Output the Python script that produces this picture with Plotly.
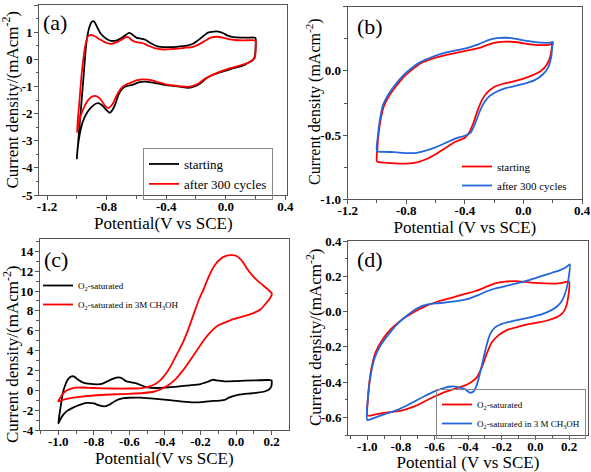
import plotly.graph_objects as go

# ---------------- data ----------------
# (a) CV loops
a_start_x = [-1.0, -0.985, -0.96, -0.935, -0.915, -0.9, -0.885, -0.865, -0.84, -0.8, -0.77, -0.73, -0.7, -0.67, -0.65, -0.63, -0.6, -0.57, -0.54, -0.5, -0.46, -0.4, -0.33, -0.26, -0.22, -0.19, -0.15, -0.12, -0.08, -0.05, -0.02, 0.01, 0.05, 0.1, 0.15, 0.19, 0.2,
             0.2, 0.195, 0.18, 0.16, 0.13, 0.1, 0.05, 0.0, -0.05, -0.09, -0.13, -0.17, -0.21, -0.25, -0.3, -0.35, -0.4, -0.45, -0.5, -0.54, -0.58, -0.62, -0.66, -0.68, -0.7, -0.72, -0.745, -0.765, -0.78, -0.8, -0.825, -0.85, -0.87, -0.9, -0.93, -0.96, -0.98, -0.995, -1.0]
a_start_y = [-3.65, -2.65, -1.0, 0.65, 1.2, 1.38, 1.4, 1.2, 0.95, 0.75, 0.68, 0.7, 0.78, 0.9, 0.97, 0.92, 0.8, 0.76, 0.72, 0.58, 0.48, 0.45, 0.46, 0.5, 0.57, 0.68, 0.86, 0.98, 1.02, 1.02, 0.97, 0.88, 0.82, 0.8, 0.8, 0.8, 0.78,
             0.4, 0.1, -0.03, -0.1, -0.2, -0.26, -0.33, -0.42, -0.5, -0.58, -0.7, -0.88, -1.0, -1.05, -1.02, -0.98, -0.95, -0.9, -0.85, -0.82, -0.84, -0.93, -0.98, -1.02, -1.12, -1.3, -1.7, -1.9, -1.97, -1.88, -1.72, -1.62, -1.63, -1.75, -1.95, -2.3, -2.75, -3.3, -3.65]
a_after_x = [-1.0, -0.985, -0.965, -0.945, -0.925, -0.905, -0.88, -0.85, -0.8, -0.77, -0.73, -0.7, -0.67, -0.65, -0.63, -0.6, -0.56, -0.52, -0.47, -0.42, -0.35, -0.28, -0.22, -0.18, -0.14, -0.1, -0.06, -0.02, 0.02, 0.06, 0.12, 0.19, 0.2,
             0.2, 0.195, 0.17, 0.14, 0.1, 0.05, 0.0, -0.05, -0.1, -0.14, -0.18, -0.22, -0.26, -0.3, -0.35, -0.4, -0.45, -0.5, -0.55, -0.6, -0.64, -0.67, -0.7, -0.73, -0.76, -0.79, -0.81, -0.84, -0.87, -0.89, -0.92, -0.95, -0.975, -0.99, -1.0]
a_after_y = [-2.7, -1.7, -0.4, 0.45, 0.85, 0.9, 0.85, 0.75, 0.6, 0.57, 0.63, 0.72, 0.82, 0.8, 0.7, 0.63, 0.6, 0.5, 0.4, 0.36, 0.38, 0.42, 0.46, 0.55, 0.68, 0.8, 0.83, 0.8, 0.74, 0.71, 0.7, 0.7, 0.68,
             0.35, 0.05, -0.08, -0.15, -0.22, -0.3, -0.38, -0.48, -0.6, -0.72, -0.88, -0.98, -1.02, -1.0, -0.96, -0.93, -0.85, -0.77, -0.74, -0.78, -0.87, -0.93, -1.05, -1.3, -1.65, -1.8, -1.72, -1.48, -1.36, -1.36, -1.48, -1.75, -2.1, -2.45, -2.7]

# (b) CV loops
b_start_x = [-1.0, -0.95, -0.88, -0.8, -0.72, -0.65, -0.58, -0.52, -0.46, -0.4, -0.37, -0.34, -0.31, -0.28, -0.24, -0.2, -0.14, -0.08, 0.0, 0.06, 0.12, 0.16, 0.185, 0.195, 0.2,
             0.18, 0.12, 0.06, 0.0, -0.06, -0.12, -0.18, -0.24, -0.3, -0.38, -0.46, -0.54, -0.62, -0.7, -0.76, -0.82, -0.87, -0.92, -0.955, -0.975, -0.99, -0.997, -1.0]
b_start_y = [-0.705, -0.715, -0.72, -0.722, -0.71, -0.68, -0.635, -0.59, -0.55, -0.52, -0.48, -0.4, -0.3, -0.22, -0.16, -0.125, -0.1, -0.085, -0.06, -0.035, 0.0, 0.05, 0.12, 0.19, 0.215,
             0.205, 0.2, 0.205, 0.215, 0.225, 0.228, 0.222, 0.205, 0.18, 0.16, 0.14, 0.12, 0.095, 0.06, 0.01, -0.05, -0.12, -0.2, -0.28, -0.38, -0.5, -0.6, -0.705]
b_after_x = [-1.0, -0.95, -0.88, -0.8, -0.74, -0.68, -0.6, -0.52, -0.46, -0.4, -0.36, -0.33, -0.3, -0.27, -0.23, -0.18, -0.12, -0.05, 0.02, 0.08, 0.13, 0.17, 0.19, 0.197, 0.2,
             0.18, 0.12, 0.06, 0.0, -0.06, -0.12, -0.18, -0.24, -0.3, -0.38, -0.46, -0.54, -0.62, -0.7, -0.76, -0.82, -0.87, -0.92, -0.96, -0.98, -0.993, -1.0]
b_after_y = [-0.625, -0.63, -0.633, -0.64, -0.64, -0.625, -0.595, -0.555, -0.525, -0.505, -0.48, -0.41, -0.32, -0.25, -0.195, -0.16, -0.135, -0.115, -0.095, -0.07, -0.03, 0.03, 0.11, 0.19, 0.225,
             0.22, 0.22, 0.228, 0.238, 0.252, 0.258, 0.255, 0.24, 0.21, 0.18, 0.16, 0.14, 0.11, 0.07, 0.025, -0.035, -0.1, -0.18, -0.27, -0.38, -0.5, -0.625]

# (c) CV loops
c_o2_x = [-1.0, -0.99, -0.975, -0.96, -0.945, -0.925, -0.91, -0.89, -0.86, -0.82, -0.78, -0.75, -0.72, -0.69, -0.66, -0.64, -0.62, -0.59, -0.56, -0.53, -0.5, -0.45, -0.4, -0.33, -0.26, -0.2, -0.16, -0.13, -0.1, -0.06, 0.0, 0.1, 0.19, 0.2,
          0.198, 0.185, 0.16, 0.12, 0.08, 0.04, 0.0, -0.04, -0.06, -0.09, -0.13, -0.18, -0.24, -0.3, -0.36, -0.42, -0.48, -0.54, -0.6, -0.64, -0.68, -0.71, -0.74, -0.77, -0.8, -0.84, -0.88, -0.92, -0.95, -0.975, -0.99, -1.0]
c_o2_y = [-3.3, -2.0, -0.3, 0.6, 1.15, 1.42, 1.4, 1.1, 0.8, 0.66, 0.62, 0.7, 0.95, 1.2, 1.32, 1.2, 0.95, 0.82, 0.72, 0.5, 0.32, 0.25, 0.3, 0.4, 0.52, 0.65, 0.88, 1.08, 1.0, 0.92, 0.95, 1.02, 1.05, 1.0,
          0.4, 0.1, -0.1, -0.22, -0.3, -0.36, -0.48, -0.72, -0.92, -1.02, -1.05, -1.15, -1.2, -1.12, -1.0, -0.9, -0.8, -0.72, -0.73, -0.8, -1.05, -1.4, -1.6, -1.5, -1.3, -1.25, -1.45, -1.75, -2.05, -2.5, -2.95, -3.3]
c_meoh_x = [-1.0, -0.985, -0.965, -0.94, -0.9, -0.86, -0.8, -0.7, -0.6, -0.53, -0.49, -0.45, -0.42, -0.39, -0.36, -0.33, -0.3, -0.27, -0.24, -0.21, -0.18, -0.15, -0.12, -0.09, -0.06, -0.03, 0.0, 0.03, 0.06, 0.09, 0.12, 0.15, 0.18, 0.2,
            0.2, 0.19, 0.17, 0.14, 0.1, 0.06, 0.02, -0.02, -0.06, -0.1, -0.14, -0.18, -0.22, -0.26, -0.3, -0.34, -0.38, -0.42, -0.46, -0.52, -0.6, -0.7, -0.8, -0.88, -0.94, -0.98, -1.0]
c_meoh_y = [-1.1, -0.6, -0.15, 0.12, 0.28, 0.3, 0.25, 0.2, 0.2, 0.25, 0.38, 0.7, 1.15, 1.8, 2.7, 3.75, 4.8, 6.1, 7.6, 9.1, 10.3, 11.6, 12.6, 13.2, 13.5, 13.6, 13.55, 13.1, 12.3, 11.6, 11.05, 10.6, 10.15, 9.8,
            9.6, 9.25, 8.8, 8.2, 7.8, 7.55, 7.35, 7.15, 6.85, 6.55, 5.95, 5.1, 4.05, 3.0, 2.0, 1.15, 0.55, 0.15, -0.1, -0.25, -0.33, -0.4, -0.5, -0.65, -0.8, -0.98, -1.1]

# (d) CV loops
d_o2_x = [-1.0, -0.95, -0.9, -0.84, -0.78, -0.72, -0.66, -0.6, -0.54, -0.48, -0.42, -0.38, -0.35, -0.32, -0.29, -0.26, -0.22, -0.17, -0.1, -0.04, 0.02, 0.08, 0.13, 0.16, 0.18, 0.193, 0.2,
          0.17, 0.12, 0.06, 0.0, -0.06, -0.12, -0.18, -0.24, -0.3, -0.36, -0.42, -0.5, -0.58, -0.66, -0.74, -0.8, -0.86, -0.91, -0.95, -0.975, -0.99, -0.998, -1.0]
d_o2_y = [-0.59, -0.583, -0.575, -0.568, -0.557, -0.538, -0.51, -0.482, -0.457, -0.438, -0.42, -0.4, -0.375, -0.32, -0.24, -0.175, -0.135, -0.105, -0.085, -0.072, -0.062, -0.048, -0.03, -0.01, 0.02, 0.07, 0.17,
          0.165, 0.158, 0.16, 0.163, 0.168, 0.172, 0.17, 0.16, 0.137, 0.115, 0.1, 0.078, 0.057, 0.028, -0.012, -0.05, -0.1, -0.16, -0.23, -0.32, -0.42, -0.52, -0.59]
d_meoh_x = [-1.0, -0.95, -0.9, -0.84, -0.78, -0.72, -0.66, -0.6, -0.55, -0.5, -0.46, -0.42, -0.39, -0.37, -0.35, -0.33, -0.31, -0.29, -0.27, -0.24, -0.2, -0.14, -0.08, -0.02, 0.04, 0.09, 0.13, 0.16, 0.185, 0.2, 0.205,
            0.18, 0.14, 0.1, 0.05, 0.0, -0.05, -0.1, -0.16, -0.22, -0.28, -0.34, -0.4, -0.46, -0.52, -0.58, -0.64, -0.7, -0.76, -0.82, -0.87, -0.92, -0.955, -0.978, -0.992, -1.0]
d_meoh_y = [-0.615, -0.6, -0.583, -0.565, -0.54, -0.51, -0.48, -0.453, -0.435, -0.425, -0.428, -0.44, -0.46, -0.455, -0.42, -0.35, -0.27, -0.19, -0.13, -0.09, -0.07, -0.055, -0.043, -0.03, -0.015, 0.005, 0.03, 0.065, 0.13, 0.205, 0.268,
            0.25, 0.232, 0.22, 0.205, 0.19, 0.175, 0.162, 0.148, 0.135, 0.118, 0.093, 0.072, 0.06, 0.053, 0.047, 0.04, 0.02, -0.02, -0.07, -0.125, -0.19, -0.26, -0.35, -0.45, -0.615]

# tick labels
a_xticks = [-1.2, -0.8, -0.4, 0.0, 0.4]
a_xlabels = ["-1.2", "-0.8", "-0.4", "0.0", "0.4"]
a_yticks = [2, 1, 0, -1, -2, -3, -4, -5]
a_ylabels = ["2", "1", "0", "-1", "-2", "-3", "-4", "-5"]
b_xticks = [-1.2, -0.8, -0.4, 0.0, 0.4]
b_xlabels = ["-1.2", "-0.8", "-0.4", "0.0", "0.4"]
b_yticks = [0.5, 0.0, -0.5, -1.0]
b_ylabels = ["0.5", "0.0", "-0.5", "-1.0"]
cd_xticks = [-1.0, -0.8, -0.6, -0.4, -0.2, 0.0, 0.2]
cd_xlabels = ["-1.0", "-0.8", "-0.6", "-0.4", "-0.2", "0.0", "0.2"]
c_yticks = [14, 12, 10, 8, 6, 4, 2, 0, -2, -4]
c_ylabels = ["14", "12", "10", "8", "6", "4", "2", "0", "-2", "-4"]
d_yticks = [0.4, 0.2, 0.0, -0.2, -0.4, -0.6]
d_ylabels = ["0.4", "0.2", "0.0", "-0.2", "-0.4", "-0.6"]

# ---------------- figure ----------------
W, H = 591, 472
SERIF = "Liberation Serif, Times New Roman, serif"
RED = "#ff0000"
BLUE = "#2366dc"
BLACK = "#000000"
AX = "#555555"

fig = go.Figure()
LW = 1.8

def tr(x, y, name, color, xa, ya, legend):
    fig.add_trace(go.Scatter(x=x, y=y, mode="lines", name=name,
                             line=dict(color=color, width=LW, shape="spline", smoothing=0.6),
                             xaxis=xa, yaxis=ya, legend=legend))

tr(a_start_x, a_start_y, "starting", BLACK, "x", "y", "legend")
tr(a_after_x, a_after_y, "after 300 cycles", RED, "x", "y", "legend")
tr(b_start_x, b_start_y, "starting", RED, "x2", "y2", "legend2")
tr(b_after_x, b_after_y, "after 300 cycles", BLUE, "x2", "y2", "legend2")
tr(c_o2_x, c_o2_y, "O<sub>2</sub>-saturated", BLACK, "x3", "y3", "legend3")
tr(c_meoh_x, c_meoh_y, "O<sub>2</sub>-saturated in 3M CH<sub>3</sub>OH", RED, "x3", "y3", "legend3")
tr(d_o2_x, d_o2_y, "O<sub>2</sub>-saturated", RED, "x4", "y4", "legend4")
tr(d_meoh_x, d_meoh_y, "O<sub>2</sub>-saturated in 3 M CH<sub>3</sub>OH", BLUE, "x4", "y4", "legend4")

def px_dom(p0, p1, total):
    return [p0 / total, p1 / total]

def ydom(top, bot):
    return [1 - bot / H, 1 - top / H]

tickfont = dict(family=SERIF, size=13, color="black", weight="bold")
titlefont = dict(family=SERIF, size=17, color="black")

def xaxis_def(dom, rng, tv, tt, minor_dtick, minor_tick0, title, anchor):
    return dict(domain=dom, range=rng, anchor=anchor, tickvals=tv, ticktext=tt,
                showline=True, linecolor=AX, linewidth=1.3, mirror=True,
                ticks="outside", ticklen=4, tickwidth=1.2, tickcolor=AX,
                ticklabelstandoff=-5,
                minor=dict(ticks="outside", ticklen=2.5, tickwidth=1, tickcolor=AX,
                           dtick=minor_dtick, tick0=minor_tick0, showgrid=False),
                showgrid=False, zeroline=False, tickfont=tickfont, automargin=False,
                title=dict(text=title, font=titlefont, standoff=0))

def yaxis_def(dom, rng, tv, tt, minor_dtick, minor_tick0, anchor):
    return dict(domain=dom, range=rng, anchor=anchor, tickvals=tv, ticktext=tt,
                showline=True, linecolor=AX, linewidth=1.3, mirror=True,
                ticks="outside", ticklen=4, tickwidth=1.2, tickcolor=AX,
                ticklabelstandoff=-1,
                minor=dict(ticks="outside", ticklen=2.5, tickwidth=1, tickcolor=AX,
                           dtick=minor_dtick, tick0=minor_tick0, showgrid=False),
                showgrid=False, zeroline=False, tickfont=tickfont, automargin=False)

YT1 = "Current density/(mAcm<sup>-2</sup>)"
YT2 = "Current density (mAcm<sup>-2</sup>)"

fig.update_layout(
    width=W, height=H,
    margin=dict(l=0, r=0, t=0, b=0, autoexpand=False),
    paper_bgcolor="white", plot_bgcolor="white",
    xaxis=xaxis_def(px_dom(39.3, 287.3, W), [-1.252, 0.413], a_xticks, a_xlabels, 0.2, -1.2, "Potential(V vs SCE)", "y"),
    yaxis=yaxis_def(ydom(5, 195), [-5, 2], a_yticks, a_ylabels, 0.5, 0, "x"),
    xaxis2=xaxis_def(px_dom(347.7, 582, W), [-1.2, 0.4], b_xticks, b_xlabels, 0.2, -1.2, "Potential (V vs SCE)", "y2"),
    yaxis2=yaxis_def(ydom(6.7, 199.3), [-1.0, 0.5], b_yticks, b_ylabels, 0.25, 0, "x2"),
    xaxis3=xaxis_def(px_dom(40, 288.7, W), [-1.103, 0.296], cd_xticks, cd_xlabels, 0.1, 0, "Potential(V vs SCE)", "y3"),
    yaxis3=yaxis_def(ydom(239.3, 430.3), [-4, 15.2], c_yticks, c_ylabels, 1, 0, "x3"),
    xaxis4=xaxis_def(px_dom(348.3, 587.7, W), [-1.113, 0.311], cd_xticks, cd_xlabels, 0.1, 0, "Potential (V vs SCE)", "y4"),
    yaxis4=yaxis_def(ydom(241, 435), [-0.7, 0.4], d_yticks, d_ylabels, 0.1, 0, "x4"),
    legend=dict(x=143 / W, y=1 - 148 / H, xanchor="left", yanchor="top",
                bordercolor="#888888", borderwidth=1, bgcolor="rgba(255,255,255,0)",
                font=dict(family=SERIF, size=13, color="black")),
    legend2=dict(x=457 / W, y=1 - 152 / H, xanchor="left", yanchor="top",
                 borderwidth=0, bgcolor="rgba(255,255,255,0)",
                 font=dict(family=SERIF, size=11, color="black")),
    legend3=dict(x=38 / W, y=1 - 271 / H, xanchor="left", yanchor="top",
                 borderwidth=0, bgcolor="rgba(255,255,255,0)",
                 font=dict(family=SERIF, size=9, color="black")),
    legend4=dict(x=436 / W, y=1 - 389 / H, xanchor="left", yanchor="top",
                 bordercolor="#888888", borderwidth=1, bgcolor="rgba(255,255,255,0)",
                 font=dict(family=SERIF, size=9, color="black")),
    showlegend=True,
)

# y-axis titles (rotated text placed beside each axis)
ytitles = [(YT1, 10, 99.5, 17), (YT2, 314, 102, 16), (YT1, 11, 354, 17), (YT1, 314, 337, 17)]
for txt, px, py, fs in ytitles:
    fig.add_annotation(text=txt, xref="paper", yref="paper", x=px / W, y=1 - py / H,
                       xanchor="center", yanchor="middle", showarrow=False, textangle=-90,
                       font=dict(family=SERIF, size=fs, color="black"))

labels = [("(a)", 55, 23), ("(b)", 370, 27), ("(c)", 56, 259), ("(d)", 370, 259)]
for txt, px, py in labels:
    fig.add_annotation(text=txt, xref="paper", yref="paper", x=px / W, y=1 - py / H,
                       xanchor="center", yanchor="middle", showarrow=False,
                       font=dict(family=SERIF, size=22, color="black"))

# remove the browser's default body margin so the figure sits at the page origin
fig.write_html("out.html", config={"displayModeBar": False},
               post_script="document.body.style.margin='0';")
